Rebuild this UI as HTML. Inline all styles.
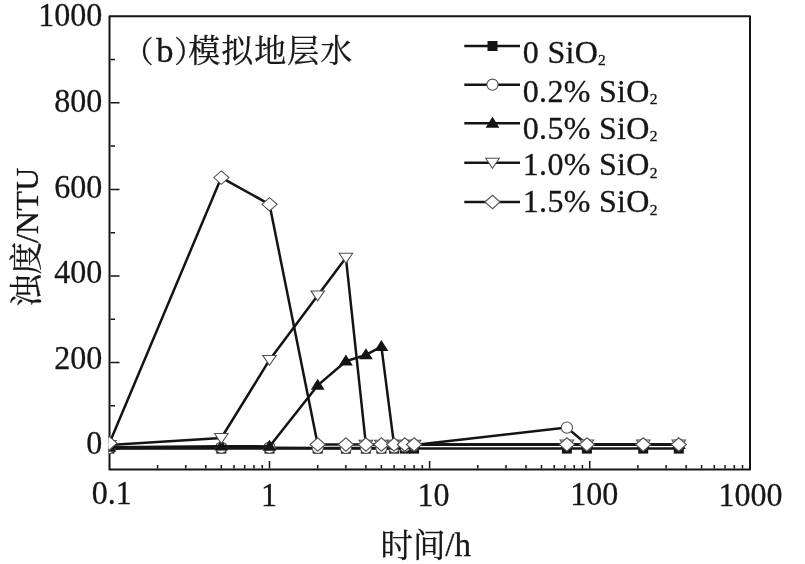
<!DOCTYPE html>
<html lang="zh"><head><meta charset="utf-8"><title>chart</title>
<style>html,body{margin:0;padding:0;background:#fff}body{width:805px;height:564px;overflow:hidden}svg{display:block;will-change:transform}text{font-family:"Liberation Serif","Noto Serif CJK SC",serif;fill:#161616;stroke:#161616;stroke-width:0.3px}.cj{font-family:"Noto Serif CJK SC","Liberation Serif",serif}</style>
</head><body>
<svg width="805" height="564" viewBox="0 0 805 564">
<rect width="805" height="564" fill="#fff"/>
<defs><clipPath id="cp"><rect x="108.6" y="16.3" width="641.4" height="453.2"/></clipPath></defs>
<rect x="109.5" y="16.3" width="640.5" height="453.2" fill="none" stroke="#141414" stroke-width="2.0" stroke-linejoin="round"/>
<path d="M110.5 449.0h9.0 M110.5 405.7h4.5 M110.5 362.5h9.0 M110.5 319.2h4.5 M110.5 275.9h9.0 M110.5 232.7h4.5 M110.5 189.4h9.0 M110.5 146.1h4.5 M110.5 102.8h9.0 M110.5 59.6h4.5 M157.6 468.5v-3.4 M185.8 468.5v-3.4 M205.8 468.5v-3.4 M221.3 468.5v-3.4 M234.0 468.5v-3.4 M244.7 468.5v-3.4 M254.0 468.5v-3.4 M262.2 468.5v-3.4 M269.5 468.5v-7.6 M317.7 468.5v-3.4 M345.9 468.5v-3.4 M365.9 468.5v-3.4 M381.4 468.5v-3.4 M394.1 468.5v-3.4 M404.8 468.5v-3.4 M414.1 468.5v-3.4 M422.3 468.5v-3.4 M429.6 468.5v-7.6 M477.8 468.5v-3.4 M506.0 468.5v-3.4 M526.0 468.5v-3.4 M541.5 468.5v-3.4 M554.2 468.5v-3.4 M564.9 468.5v-3.4 M574.2 468.5v-3.4 M582.4 468.5v-3.4 M589.7 468.5v-7.6 M637.9 468.5v-3.4 M666.1 468.5v-3.4 M686.1 468.5v-3.4 M701.6 468.5v-3.4 M714.3 468.5v-3.4 M725.0 468.5v-3.4 M734.3 468.5v-3.4 M742.5 468.5v-3.4" stroke="#141414" stroke-width="1.5" fill="none"/>
<g clip-path="url(#cp)">
<polyline points="109.4,448.6 221.3,448.6 269.5,448.6 317.7,448.6 345.9,448.6 365.9,448.6 381.4,448.6 394.1,448.6 404.8,448.6 414.1,448.6 566.9,448.6 586.9,448.6 643.2,448.6 678.8,448.6" fill="none" stroke="#141414" stroke-width="2.5" stroke-linejoin="round"/>
<rect x="104.4" y="443.6" width="10.0" height="10.0" fill="#141414"/>
<rect x="216.3" y="443.6" width="10.0" height="10.0" fill="#141414"/>
<rect x="264.5" y="443.6" width="10.0" height="10.0" fill="#141414"/>
<rect x="312.7" y="443.6" width="10.0" height="10.0" fill="#141414"/>
<rect x="340.9" y="443.6" width="10.0" height="10.0" fill="#141414"/>
<rect x="360.9" y="443.6" width="10.0" height="10.0" fill="#141414"/>
<rect x="376.4" y="443.6" width="10.0" height="10.0" fill="#141414"/>
<rect x="389.1" y="443.6" width="10.0" height="10.0" fill="#141414"/>
<rect x="399.8" y="443.6" width="10.0" height="10.0" fill="#141414"/>
<rect x="409.1" y="443.6" width="10.0" height="10.0" fill="#141414"/>
<rect x="561.9" y="443.6" width="10.0" height="10.0" fill="#141414"/>
<rect x="581.9" y="443.6" width="10.0" height="10.0" fill="#141414"/>
<rect x="638.2" y="443.6" width="10.0" height="10.0" fill="#141414"/>
<rect x="673.8" y="443.6" width="10.0" height="10.0" fill="#141414"/>
<polyline points="109.4,447.9 221.3,447.7 269.5,447.7 317.7,447.9 345.9,447.9 365.9,447.9 381.4,447.9 394.1,447.3 404.8,446.4 414.1,445.1 566.9,427.6 586.9,444.5 643.2,444.5 678.8,444.5" fill="none" stroke="#141414" stroke-width="2.5" stroke-linejoin="round"/>
<circle cx="109.4" cy="447.9" r="5.6" fill="#fff" stroke="#505050" stroke-width="1.05"/>
<circle cx="221.3" cy="447.7" r="5.6" fill="#fff" stroke="#505050" stroke-width="1.05"/>
<circle cx="269.5" cy="447.7" r="5.6" fill="#fff" stroke="#505050" stroke-width="1.05"/>
<circle cx="317.7" cy="447.9" r="5.6" fill="#fff" stroke="#505050" stroke-width="1.05"/>
<circle cx="345.9" cy="447.9" r="5.6" fill="#fff" stroke="#505050" stroke-width="1.05"/>
<circle cx="365.9" cy="447.9" r="5.6" fill="#fff" stroke="#505050" stroke-width="1.05"/>
<circle cx="381.4" cy="447.9" r="5.6" fill="#fff" stroke="#505050" stroke-width="1.05"/>
<circle cx="394.1" cy="447.3" r="5.6" fill="#fff" stroke="#505050" stroke-width="1.05"/>
<circle cx="404.8" cy="446.4" r="5.6" fill="#fff" stroke="#505050" stroke-width="1.05"/>
<circle cx="414.1" cy="445.1" r="5.6" fill="#fff" stroke="#505050" stroke-width="1.05"/>
<circle cx="566.9" cy="427.6" r="5.6" fill="#fff" stroke="#505050" stroke-width="1.05"/>
<circle cx="586.9" cy="444.5" r="5.6" fill="#fff" stroke="#505050" stroke-width="1.05"/>
<circle cx="643.2" cy="444.5" r="5.6" fill="#fff" stroke="#505050" stroke-width="1.05"/>
<circle cx="678.8" cy="444.5" r="5.6" fill="#fff" stroke="#505050" stroke-width="1.05"/>
<polyline points="109.4,447.3 221.3,446.2 269.5,446.4 317.7,385.4 345.9,361.2 365.9,354.9 381.4,346.7 394.1,445.1 404.8,444.9 414.1,444.7 566.9,444.5 586.9,444.5 643.2,444.5 678.8,444.5" fill="none" stroke="#141414" stroke-width="2.5" stroke-linejoin="round"/>
<path d="M109.4 440.7L116.3 451.7L102.5 451.7Z" fill="#141414"/>
<path d="M221.3 439.6L228.2 450.6L214.4 450.6Z" fill="#141414"/>
<path d="M269.5 439.8L276.4 450.8L262.6 450.8Z" fill="#141414"/>
<path d="M317.7 378.8L324.6 389.8L310.8 389.8Z" fill="#141414"/>
<path d="M345.9 354.6L352.8 365.6L339.0 365.6Z" fill="#141414"/>
<path d="M365.9 348.3L372.8 359.3L359.0 359.3Z" fill="#141414"/>
<path d="M381.4 340.1L388.3 351.1L374.5 351.1Z" fill="#141414"/>
<path d="M394.1 438.5L401.0 449.5L387.2 449.5Z" fill="#141414"/>
<path d="M404.8 438.3L411.7 449.3L397.9 449.3Z" fill="#141414"/>
<path d="M414.1 438.1L421.0 449.1L407.2 449.1Z" fill="#141414"/>
<path d="M566.9 437.9L573.8 448.9L560.0 448.9Z" fill="#141414"/>
<path d="M586.9 437.9L593.8 448.9L580.0 448.9Z" fill="#141414"/>
<path d="M643.2 437.9L650.1 448.9L636.3 448.9Z" fill="#141414"/>
<path d="M678.8 437.9L685.7 448.9L671.9 448.9Z" fill="#141414"/>
<polyline points="109.4,445.1 221.3,438.0 269.5,359.9 317.7,295.4 345.9,257.7 365.9,444.7 381.4,444.7 394.1,444.7 404.8,444.7 414.1,444.7 566.9,444.5 586.9,444.5 643.2,444.5 678.8,444.5" fill="none" stroke="#141414" stroke-width="2.5" stroke-linejoin="round"/>
<path d="M102.6 440.6L116.2 440.6L109.4 450.6Z" fill="#fff" stroke="#505050" stroke-width="1.05" stroke-linejoin="miter"/>
<path d="M214.5 433.5L228.1 433.5L221.3 443.5Z" fill="#fff" stroke="#505050" stroke-width="1.05" stroke-linejoin="miter"/>
<path d="M262.7 355.4L276.3 355.4L269.5 365.4Z" fill="#fff" stroke="#505050" stroke-width="1.05" stroke-linejoin="miter"/>
<path d="M310.9 290.9L324.5 290.9L317.7 300.9Z" fill="#fff" stroke="#505050" stroke-width="1.05" stroke-linejoin="miter"/>
<path d="M339.1 253.2L352.7 253.2L345.9 263.2Z" fill="#fff" stroke="#505050" stroke-width="1.05" stroke-linejoin="miter"/>
<path d="M359.1 440.2L372.7 440.2L365.9 450.2Z" fill="#fff" stroke="#505050" stroke-width="1.05" stroke-linejoin="miter"/>
<path d="M374.6 440.2L388.2 440.2L381.4 450.2Z" fill="#fff" stroke="#505050" stroke-width="1.05" stroke-linejoin="miter"/>
<path d="M387.3 440.2L400.9 440.2L394.1 450.2Z" fill="#fff" stroke="#505050" stroke-width="1.05" stroke-linejoin="miter"/>
<path d="M398.0 440.2L411.6 440.2L404.8 450.2Z" fill="#fff" stroke="#505050" stroke-width="1.05" stroke-linejoin="miter"/>
<path d="M407.3 440.2L420.9 440.2L414.1 450.2Z" fill="#fff" stroke="#505050" stroke-width="1.05" stroke-linejoin="miter"/>
<path d="M560.1 440.0L573.7 440.0L566.9 450.0Z" fill="#fff" stroke="#505050" stroke-width="1.05" stroke-linejoin="miter"/>
<path d="M580.1 440.0L593.7 440.0L586.9 450.0Z" fill="#fff" stroke="#505050" stroke-width="1.05" stroke-linejoin="miter"/>
<path d="M636.4 440.0L650.0 440.0L643.2 450.0Z" fill="#fff" stroke="#505050" stroke-width="1.05" stroke-linejoin="miter"/>
<path d="M672.0 440.0L685.6 440.0L678.8 450.0Z" fill="#fff" stroke="#505050" stroke-width="1.05" stroke-linejoin="miter"/>
<polyline points="109.4,443.2 221.3,177.6 269.5,204.3 317.7,444.5 345.9,444.5 365.9,444.5 381.4,444.5 394.1,444.5 404.8,444.5 414.1,444.5 566.9,444.5 586.9,444.5 643.2,444.5 678.8,444.5" fill="none" stroke="#141414" stroke-width="2.5" stroke-linejoin="round"/>
<path d="M101.8 443.2L109.4 436.5L117.0 443.2L109.4 449.9Z" fill="#fff" stroke="#505050" stroke-width="1.05"/>
<path d="M213.7 177.6L221.3 170.9L228.9 177.6L221.3 184.3Z" fill="#fff" stroke="#505050" stroke-width="1.05"/>
<path d="M261.9 204.3L269.5 197.6L277.1 204.3L269.5 211.0Z" fill="#fff" stroke="#505050" stroke-width="1.05"/>
<path d="M310.1 444.5L317.7 437.8L325.3 444.5L317.7 451.2Z" fill="#fff" stroke="#505050" stroke-width="1.05"/>
<path d="M338.3 444.5L345.9 437.8L353.5 444.5L345.9 451.2Z" fill="#fff" stroke="#505050" stroke-width="1.05"/>
<path d="M358.3 444.5L365.9 437.8L373.5 444.5L365.9 451.2Z" fill="#fff" stroke="#505050" stroke-width="1.05"/>
<path d="M373.8 444.5L381.4 437.8L389.0 444.5L381.4 451.2Z" fill="#fff" stroke="#505050" stroke-width="1.05"/>
<path d="M386.5 444.5L394.1 437.8L401.7 444.5L394.1 451.2Z" fill="#fff" stroke="#505050" stroke-width="1.05"/>
<path d="M397.2 444.5L404.8 437.8L412.4 444.5L404.8 451.2Z" fill="#fff" stroke="#505050" stroke-width="1.05"/>
<path d="M406.5 444.5L414.1 437.8L421.7 444.5L414.1 451.2Z" fill="#fff" stroke="#505050" stroke-width="1.05"/>
<path d="M559.3 444.5L566.9 437.8L574.5 444.5L566.9 451.2Z" fill="#fff" stroke="#505050" stroke-width="1.05"/>
<path d="M579.3 444.5L586.9 437.8L594.5 444.5L586.9 451.2Z" fill="#fff" stroke="#505050" stroke-width="1.05"/>
<path d="M635.6 444.5L643.2 437.8L650.8 444.5L643.2 451.2Z" fill="#fff" stroke="#505050" stroke-width="1.05"/>
<path d="M671.2 444.5L678.8 437.8L686.4 444.5L678.8 451.2Z" fill="#fff" stroke="#505050" stroke-width="1.05"/>
</g>
<text transform="translate(102.3,25.85) scale(0.96,1)" font-size="33.4" text-anchor="end">1000</text>
<text transform="translate(102.3,112.35) scale(0.96,1)" font-size="33.4" text-anchor="end">800</text>
<text transform="translate(102.3,197.85) scale(0.96,1)" font-size="33.4" text-anchor="end">600</text>
<text transform="translate(102.3,282.85) scale(0.96,1)" font-size="33.4" text-anchor="end">400</text>
<text transform="translate(102.3,368.65) scale(0.96,1)" font-size="33.4" text-anchor="end">200</text>
<text transform="translate(102.3,453.95) scale(0.96,1)" font-size="33.4" text-anchor="end">0</text>
<text transform="translate(111.7,504.0) scale(0.96,1)" font-size="33.4" text-anchor="middle">0.1</text>
<text transform="translate(268.9,506.0) scale(0.96,1)" font-size="33.4" text-anchor="middle">1</text>
<text transform="translate(433.5,506.0) scale(0.96,1)" font-size="33.4" text-anchor="middle">10</text>
<text transform="translate(594.3,504.6) scale(0.96,1)" font-size="33.4" text-anchor="middle">100</text>
<text transform="translate(750.5,506.0) scale(0.96,1)" font-size="33.4" text-anchor="middle">1000</text>
<text y="61.7" font-size="32"><tspan x="123.4" y="62.3" font-size="30">（</tspan><tspan x="156.3" y="61.5" font-size="34.5">b</tspan><tspan x="174.2" y="62.3" font-size="30">）</tspan><tspan x="188.2" y="61.7" letter-spacing="1.0">模拟地层水</tspan></text>
<text y="557" font-size="32.5"><tspan x="380.4">时间</tspan><tspan x="445.3" dy="-1.1" font-size="33">/h</tspan></text>
<text transform="translate(37.7,306.7) rotate(-90)" font-size="32.5"><tspan x="0">浊度</tspan><tspan x="63.6" font-size="32.3">/NTU</tspan></text>
<path d="M464.3 46.0H520" stroke="#141414" stroke-width="2.5"/>
<rect x="487.5" y="41.0" width="10.0" height="10.0" fill="#141414"/>
<text x="522.8" y="63.0" font-size="32" letter-spacing="0.3">0 SiO<tspan font-size="15.5" dy="2.4">2</tspan></text>
<path d="M464.3 84.7H520" stroke="#141414" stroke-width="2.5"/>
<circle cx="492.5" cy="84.7" r="5.6" fill="#fff" stroke="#505050" stroke-width="1.05"/>
<text x="522.8" y="101.7" font-size="32" letter-spacing="0.3">0.2% SiO<tspan font-size="15.5" dy="2.4">2</tspan></text>
<path d="M464.3 123.3H520" stroke="#141414" stroke-width="2.5"/>
<path d="M492.5 116.7L499.4 127.7L485.6 127.7Z" fill="#141414"/>
<text x="522.8" y="138.6" font-size="32" letter-spacing="0.3">0.5% SiO<tspan font-size="15.5" dy="2.4">2</tspan></text>
<path d="M464.3 162.8H520" stroke="#141414" stroke-width="2.5"/>
<path d="M485.7 158.3L499.3 158.3L492.5 168.3Z" fill="#fff" stroke="#505050" stroke-width="1.05" stroke-linejoin="miter"/>
<text x="522.8" y="175.2" font-size="32" letter-spacing="0.3">1.0% SiO<tspan font-size="15.5" dy="2.4">2</tspan></text>
<path d="M464.3 202.0H520" stroke="#141414" stroke-width="2.5"/>
<path d="M484.9 202.0L492.5 195.3L500.1 202.0L492.5 208.7Z" fill="#fff" stroke="#505050" stroke-width="1.05"/>
<text x="522.8" y="212.4" font-size="32" letter-spacing="0.3">1.5% SiO<tspan font-size="15.5" dy="2.4">2</tspan></text>
</svg></body></html>
